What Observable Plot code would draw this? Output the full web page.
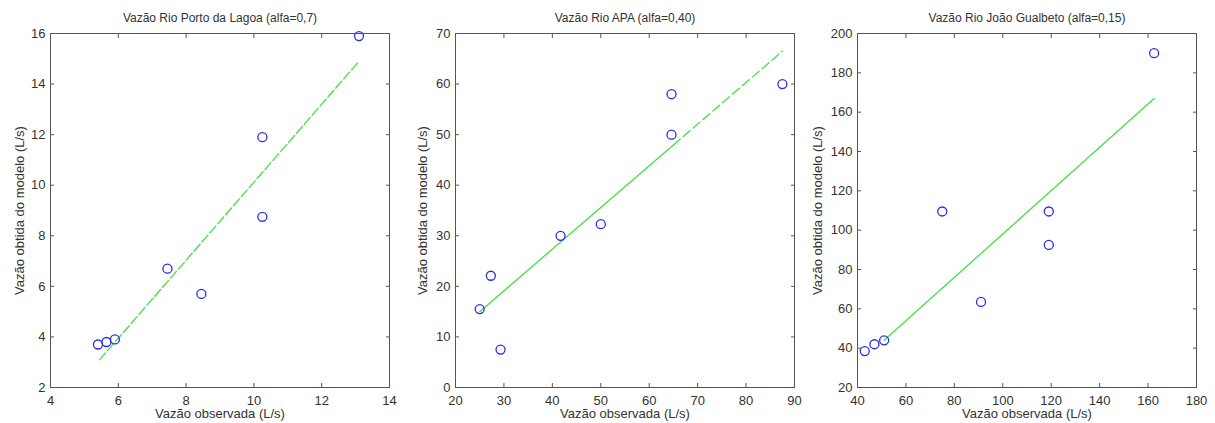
<!DOCTYPE html>
<html>
<head>
<meta charset="utf-8">
<script src="https://cdn.jsdelivr.net/npm/d3@7"></script>
<script src="https://cdn.jsdelivr.net/npm/@observablehq/plot@0.6"></script>
<style>
  body { margin: 0; background: #fff; }
  #wrap { position: relative; width: 1215px; height: 423px; }
  .panel { position: absolute; top: 0; }
  svg { overflow: visible; }
</style>
</head>
<body>
<div id="wrap"></div>
<script>
// Panel 1: Rio Porto da Lagoa
const title1 = "Vazão Rio Porto da Lagoa (alfa=0,7)";
const obs1 = [5.4, 5.65, 5.9, 7.45, 8.45, 10.25, 10.25, 13.1];
const mod1 = [3.7, 3.8, 3.9, 6.7, 5.7, 11.9, 8.75, 15.9];
const fitX1 = [5.45, 13.1];
const fitY1 = [3.1, 14.9];
const xTicks1 = [4, 6, 8, 10, 12, 14];
const yTicks1 = [2, 4, 6, 8, 10, 12, 14, 16];

// Panel 2: Rio APA
const title2 = "Vazão Rio APA (alfa=0,40)";
const obs2 = [25, 27.3, 29.3, 41.7, 50, 64.6, 64.6, 87.5];
const mod2 = [15.5, 22.1, 7.5, 30, 32.3, 58, 50, 60];
const fitX2 = [25, 87.5];
const fitY2 = [15, 66.5];
const xTicks2 = [20, 30, 40, 50, 60, 70, 80, 90];
const yTicks2 = [0, 10, 20, 30, 40, 50, 60, 70];

// Panel 3: Rio João Gualbeto
const title3 = "Vazão Rio João Gualbeto (alfa=0,15)";
const obs3 = [43, 47, 51, 75, 91, 119, 119, 162.5];
const mod3 = [38.5, 42, 44, 109.5, 63.5, 109.5, 92.5, 190];
const fitX3 = [51, 162.5];
const fitY3 = [44, 167];
const xTicks3 = [40, 60, 80, 100, 120, 140, 160, 180];
const yTicks3 = [20, 40, 60, 80, 100, 120, 140, 160, 180, 200];

const xLabel = "Vazão observada (L/s)";
const yLabel = "Vazão obtida do modelo (L/s)";

const panels = [
  {title: title1, obs: obs1, mod: mod1, fx: fitX1, fy: fitY1, xt: xTicks1, yt: yTicks1,
   left: 0, ml: 50, mr: 16, yOff: 36, dash: "9,3"},
  {title: title2, obs: obs2, mod: mod2, fx: fitX2, fy: fitY2, xt: xTicks2, yt: yTicks2,
   left: 405, ml: 50, mr: 16, yOff: 38, dash: "mixed"},
  {title: title3, obs: obs3, mod: mod3, fx: fitX3, fy: fitY3, xt: xTicks3, yt: yTicks3,
   left: 810, ml: 47, mr: 19, yOff: 45, dash: null}
];

const green = "#45de45";
const blue = "#2b2bee";
const frameColor = "#555";
const textColor = "#333";

const wrap = document.getElementById("wrap");

for (const p of panels) {
  const pts = p.obs.map((x, i) => ({x, y: p.mod[i]}));
  const fit = p.fx.map((x, i) => ({x, y: p.fy[i]}));
  const xd = [p.xt[0], p.xt[p.xt.length - 1]];
  const yd = [p.yt[0], p.yt[p.yt.length - 1]];

  let lineMarks;
  if (p.dash === "mixed") {
    // solid up to ~x=65, dashed beyond
    const t = (65 - fit[0].x) / (fit[1].x - fit[0].x);
    const mid = {x: 65, y: fit[0].y + t * (fit[1].y - fit[0].y)};
    lineMarks = [
      Plot.line([fit[0], mid], {x: "x", y: "y", stroke: green, strokeWidth: 1.3}),
      Plot.line([mid, fit[1]], {x: "x", y: "y", stroke: green, strokeWidth: 1.3, strokeDasharray: "9,4"})
    ];
  } else {
    lineMarks = [Plot.line(fit, {x: "x", y: "y", stroke: green, strokeWidth: 1.3,
      strokeDasharray: p.dash || undefined})];
  }

  const chart = Plot.plot({
    width: 405,
    height: 423,
    marginLeft: p.ml,
    marginRight: p.mr,
    marginTop: 33,
    marginBottom: 36,
    style: {fontFamily: "Liberation Sans, Arial, sans-serif", fontSize: "12px", color: textColor, background: "transparent"},
    x: {domain: xd, ticks: p.xt},
    y: {domain: yd, ticks: p.yt},
    marks: [
      Plot.frame({stroke: frameColor, strokeWidth: 1}),
      Plot.axisX(p.xt, {anchor: "bottom", tickSize: -4, tickPadding: 12, stroke: frameColor,
        fontSize: 13, label: xLabel, labelAnchor: "center", labelArrow: "none", labelOffset: 30}),
      Plot.axisX(p.xt, {anchor: "top", tickSize: -4, tickFormat: () => "", stroke: frameColor, label: null}),
      Plot.axisY(p.yt, {anchor: "left", tickSize: -4, tickPadding: 9, stroke: frameColor,
        fontSize: 13, label: yLabel, labelAnchor: "center", labelArrow: "none", labelOffset: p.yOff}),
      Plot.axisY(p.yt, {anchor: "right", tickSize: -4, tickFormat: () => "", stroke: frameColor, label: null}),
      ...lineMarks,
      Plot.dot(pts, {x: "x", y: "y", r: 4.5, stroke: blue, strokeWidth: 1.3, fill: "none"}),
      Plot.text([p.title], {frameAnchor: "top", dy: -20, fontSize: 12, fill: textColor})
    ]
  });
  const div = document.createElement("div");
  div.className = "panel";
  div.style.left = p.left + "px";
  div.appendChild(chart);
  wrap.appendChild(div);
}
</script>
</body>
</html>
